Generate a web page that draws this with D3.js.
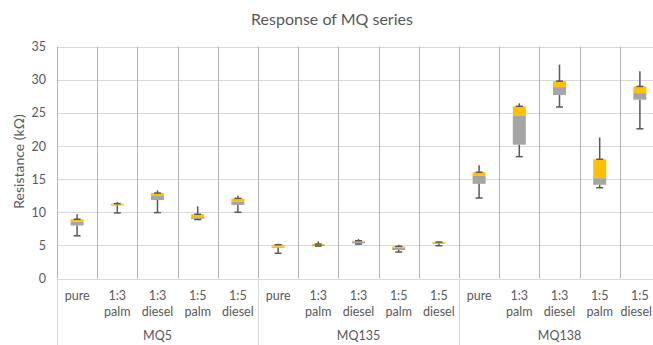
<!DOCTYPE html>
<html>
<head>
<meta charset="utf-8">
<script src="https://cdn.jsdelivr.net/npm/d3@7"></script>
<style>
  html, body { margin: 0; padding: 0; background: #fff; overflow: hidden; }
  svg { display: block; }
  text { font-family: Lato, "Open Sans", sans-serif; fill: #595959; }
</style>
</head>
<body>
<svg id="chart" width="653" height="345"></svg>
<script>
// Sensor groups and the fuel blends measured for each
const sensors = ["MQ5", "MQ135", "MQ138"];
const blends = ["pure", "1:3 palm", "1:3 diesel", "1:5 palm", "1:5 diesel"];

// Five-number summaries (kΩ), ordered MQ5 blends, MQ135 blends, MQ138 blends
const minVals    = [6.45, 9.9, 9.95, 8.9, 10.0,   3.8, 4.9, 5.2, 4.0, 4.95,   12.15, 18.4, 25.9, 13.7, 22.6];
const q1Vals     = [8.0, 11.05, 11.85, 9.0, 11.1,  4.65, 4.9, 5.3, 4.3, 5.25,  14.3, 20.2, 27.7, 14.15, 27.0];
const medianVals = [8.6, 11.15, 12.45, 9.25, 11.65, 4.8, 5.1, 5.55, 4.65, 5.4, 15.5, 24.55, 28.9, 15.15, 28.0];
const q3Vals     = [8.95, 11.3, 12.9, 9.7, 12.1,   5.1, 5.2, 5.7, 4.85, 5.5,   16.05, 26.0, 29.8, 18.0, 29.0];
const maxVals    = [9.7, 11.55, 13.3, 10.9, 12.5,  5.25, 5.6, 5.95, 5.1, 5.6,  17.1, 26.45, 32.3, 21.3, 31.3];

const yTicks = [0, 5, 10, 15, 20, 25, 30, 35];

const rows = [];
sensors.forEach((s, gi) => blends.forEach((b, bi) => {
  const i = gi * blends.length + bi;
  rows.push({ key: s + "|" + b, sensor: s, blend: b,
    min: minVals[i], q1: q1Vals[i], med: medianVals[i], q3: q3Vals[i], max: maxVals[i] });
}));

const W = 653;
const svg = d3.select("#chart");
const plotL = 57, plotR = 660, plotT = 46.7, plotB = 278.5;

const x = d3.scaleBand().domain(rows.map(d => d.key)).range([plotL, plotR]).padding(0);
const y = d3.scaleLinear().domain([0, 35]).range([plotB, plotT]);

// Title
svg.append("text").attr("x", 332).attr("y", 25).attr("text-anchor", "middle")
  .style("font-size", "16px").text("Response of MQ series");

// Horizontal gridlines
svg.append("g").selectAll("line").data(yTicks).join("line")
  .attr("x1", plotL).attr("x2", plotR)
  .attr("y1", d => Math.round(y(d)) + 0.5).attr("y2", d => Math.round(y(d)) + 0.5)
  .attr("stroke", "#d9d9d9").attr("stroke-width", 1);

// Vertical gridlines at every category boundary
const bounds = rows.map(d => x(d.key)).concat([plotR]);
svg.append("g").selectAll("line").data(bounds).join("line")
  .attr("x1", d => Math.round(d) + 0.5).attr("x2", d => Math.round(d) + 0.5)
  .attr("y1", plotT).attr("y2", plotB)
  .attr("stroke", "#b3b3b3").attr("stroke-width", 1);

// Y axis tick labels
const yAxis = d3.axisLeft(y).tickValues(yTicks).tickSize(0).tickPadding(11);
const yg = svg.append("g").attr("transform", `translate(${plotL},0)`).call(yAxis);
yg.select(".domain").remove();
yg.selectAll("text").style("font-size", "12.5px").style("font-family", "Lato, sans-serif").attr("fill", "#595959");

// Y axis title
svg.append("text").attr("transform", `translate(24,161.5) rotate(-90)`)
  .attr("text-anchor", "middle").style("font-size", "14px").text("Resistance (kΩ)");

// Category axis separators: left edge and group boundaries run to the bottom
const groupBounds = sensors.map(s => x(s + "|" + blends[0])).concat([plotR]);
svg.append("g").selectAll("line").data(groupBounds).join("line")
  .attr("x1", d => Math.round(d) + 0.5).attr("x2", d => Math.round(d) + 0.5)
  .attr("y1", plotB).attr("y2", 345)
  .attr("stroke", "#d9d9d9").attr("stroke-width", 1);

// Blend labels (two lines where needed), kept inside the visible width
const catG = svg.append("g").selectAll("text").data(rows).join("text")
  .attr("text-anchor", "middle").style("font-size", "12.5px");
catG.each(function(d) {
  const parts = d.blend.split(" ");
  const t = d3.select(this);
  parts.forEach((p, i) => {
    t.append("tspan").attr("x", x(d.key) + x.bandwidth() / 2)
      .attr("y", 300 + i * 15.5).text(p);
  });
  t.selectAll("tspan").each(function() {
    const bb = this.getComputedTextLength();
    const c = +this.getAttribute("x");
    if (c + bb / 2 > W - 1) this.setAttribute("x", W - 1 - bb / 2);
  });
});

// Sensor group labels
svg.append("g").selectAll("text").data(sensors).join("text")
  .attr("text-anchor", "middle").style("font-size", "12.5px")
  .attr("x", s => {
    const a = x(s + "|" + blends[0]);
    const b = x(s + "|" + blends[blends.length - 1]) + x.bandwidth();
    return (a + b) / 2;
  })
  .attr("y", 340).text(s => s);

// Boxes and whiskers
const boxW = 13, capW = 7;
const cx = d => x(d.key) + x.bandwidth() / 2;
const marks = svg.append("g").selectAll("g").data(rows).join("g");

// Lower half of the box: Q1 to median
marks.append("rect")
  .attr("x", d => cx(d) - boxW / 2).attr("width", boxW)
  .attr("y", d => y(d.med)).attr("height", d => Math.max(0.8, y(d.q1) - y(d.med)))
  .attr("fill", "#a5a5a5");

// Upper half of the box: median to Q3
marks.append("rect")
  .attr("x", d => cx(d) - boxW / 2).attr("width", boxW)
  .attr("y", d => y(d.q3)).attr("height", d => Math.max(0.8, y(d.med) - y(d.q3)))
  .attr("fill", "#ffc000");

const wColor = "#595959", wWidth = 1.5;
// Lower whisker with cap at the minimum
marks.append("line")
  .attr("x1", cx).attr("x2", cx).attr("y1", d => y(d.q1)).attr("y2", d => y(d.min))
  .attr("stroke", wColor).attr("stroke-width", wWidth);
marks.append("line")
  .attr("x1", d => cx(d) - capW / 2).attr("x2", d => cx(d) + capW / 2)
  .attr("y1", d => y(d.min)).attr("y2", d => y(d.min))
  .attr("stroke", wColor).attr("stroke-width", wWidth);
// Upper whisker, capped at the top of the box
marks.append("line")
  .attr("x1", cx).attr("x2", cx).attr("y1", d => y(d.q3)).attr("y2", d => y(d.max))
  .attr("stroke", wColor).attr("stroke-width", wWidth);
marks.append("line")
  .attr("x1", d => cx(d) - capW / 2).attr("x2", d => cx(d) + capW / 2)
  .attr("y1", d => y(d.q3)).attr("y2", d => y(d.q3))
  .attr("stroke", wColor).attr("stroke-width", wWidth);
</script>
</body>
</html>
